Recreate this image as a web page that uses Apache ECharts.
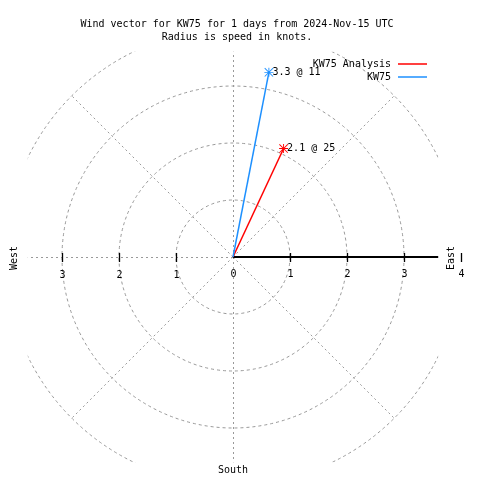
<!DOCTYPE html>
<html>
<head>
<meta charset="utf-8">
<script src="https://cdn.jsdelivr.net/npm/echarts@6/dist/echarts.min.js"></script>
<style>html,body{margin:0;padding:0;background:#fff}#c{width:480px;height:480px}</style>
</head>
<body>
<div id="c"></div>
<script>
const TITLE_LINES = ['Wind vector for KW75 for 1 days from 2024-Nov-15 UTC', 'Radius is speed in knots.'];
const SERIES_NAMES = ['KW75 Analysis', 'KW75'];
const SERIES_COLORS = ['#ff0000', '#1e90ff'];
const SPEEDS = [2.1, 3.3];
const DIRECTIONS = [25, 11];
const RINGS = [1, 2, 3, 4];
const SPOKES = [0, 45, 90, 135, 180, 225, 270, 315];
const EAST_TICKS = [0, 1, 2, 3, 4];
const WEST_TICKS = [1, 2, 3];
const COMPASS = { east: 'East', west: 'West', south: 'South' };
const R_MAX = 4;
const BOX = 3.6;

const FONT = '10px "DejaVu Sans Mono"';
const RING_STYLE = { fill: 'none', stroke: '#999', lineWidth: 1, lineDash: [3, 3] };
const SPOKE_STYLE = { fill: 'none', stroke: '#999', lineWidth: 1, lineDash: [2, 3] };
const STAR = 'path://M4.5,0H5.5V10H4.5Z M0,4.5H10V5.5H0Z M0.7,0L10,9.3L9.3,10L0,0.7Z M9.3,0L10,0.7L0.7,10L0,9.3Z';

const chart = echarts.init(document.getElementById('c'), null, { renderer: 'canvas' });

function renderFrame(params, api) {
  const c = api.coord([0, 0]);
  const rpx = v => { const p = api.coord([v, 90]); return p[0] - c[0]; };
  const left = api.coord([BOX, 270])[0];
  const right = api.coord([BOX, 90])[0];
  const top = api.coord([BOX, 0])[1];
  const bottom = api.coord([BOX, 180])[1];
  const gridChildren = [];
  RINGS.forEach(v => {
    gridChildren.push({ type: 'circle', shape: { cx: c[0], cy: c[1], r: rpx(v) }, style: RING_STYLE });
  });
  SPOKES.forEach(a => {
    if (a === 90) return;
    const p = api.coord([R_MAX, a]);
    let x1 = c[0], y1 = c[1], x2 = p[0], y2 = p[1];
    if (a % 180 === 0) { x1 = x2 = Math.round(c[0]) + 0.5; }
    if (a % 180 === 90) { y1 = y2 = Math.round(c[1]) + 0.5; }
    gridChildren.push({ type: 'line', shape: { x1: x1, y1: y1, x2: x2, y2: y2 }, style: SPOKE_STYLE });
  });
  const children = [{
    type: 'group',
    clipPath: { type: 'rect', shape: { x: left, y: top, width: right - left, height: bottom - top } },
    children: gridChildren
  }];
  const cy = Math.round(c[1]);
  children.push({ type: 'line', shape: { x1: c[0], y1: cy, x2: right, y2: cy }, style: { stroke: '#000', lineWidth: 2 } });
  const label = (x, y, t) => ({ type: 'text', x: x, y: y, style: { text: t, font: FONT, fill: '#000', align: 'center', verticalAlign: 'middle' } });
  EAST_TICKS.forEach(v => {
    const x = Math.round(api.coord([v, 90])[0]) + 0.5;
    if (v > 0) children.push({ type: 'line', shape: { x1: x, y1: cy - 4, x2: x, y2: cy + 5 }, style: { stroke: '#000', lineWidth: 1.3 } });
    children.push(label(x, cy + 17, String(v)));
  });
  WEST_TICKS.forEach(v => {
    const x = Math.round(api.coord([v, 270])[0]) + 0.5;
    children.push({ type: 'line', shape: { x1: x, y1: cy - 4, x2: x, y2: cy + 5 }, style: { stroke: '#000', lineWidth: 1.3 } });
    children.push(label(x, cy + 18, String(v)));
  });
  children.push({ type: 'text', x: right + 13, y: cy + 1, rotation: Math.PI / 2,
    style: { text: COMPASS.east, font: FONT, fill: '#000', align: 'center', verticalAlign: 'middle' } });
  children.push({ type: 'text', x: left - 13, y: cy + 1, rotation: Math.PI / 2,
    style: { text: COMPASS.west, font: FONT, fill: '#000', align: 'center', verticalAlign: 'middle' } });
  children.push(label(c[0], bottom + 8, COMPASS.south));
  return { type: 'group', children: children };
}

const vectorSeries = SERIES_NAMES.map((name, i) => ({
  name: name,
  type: 'line',
  coordinateSystem: 'polar',
  color: SERIES_COLORS[i],
  lineStyle: { color: SERIES_COLORS[i], width: 1.5 },
  z: 5,
  animation: false,
  showSymbol: true,
  data: [
    { value: [0, DIRECTIONS[i]], symbol: 'none' },
    {
      value: [SPEEDS[i], DIRECTIONS[i]],
      symbol: STAR,
      symbolSize: 9,
      itemStyle: { color: SERIES_COLORS[i] },
      label: {
        show: true, position: 'right', distance: -1,
        formatter: SPEEDS[i].toFixed(1) + ' @ ' + DIRECTIONS[i],
        fontFamily: 'DejaVu Sans Mono', fontSize: 10, color: '#000'
      }
    }
  ]
}));

chart.setOption({
  backgroundColor: '#fff',
  animation: false,
  title: {
    text: TITLE_LINES.join('\n'),
    left: 232, top: 13, textAlign: 'center',
    textStyle: { fontFamily: 'DejaVu Sans Mono', fontSize: 10, fontWeight: 'normal', color: '#000', lineHeight: 13 }
  },
  legend: {
    data: SERIES_NAMES,
    orient: 'vertical',
    right: 48, top: 54,
    align: 'right',
    icon: 'rect',
    itemWidth: 29, itemHeight: 1.5,
    itemGap: 3,
    textStyle: { fontFamily: 'DejaVu Sans Mono', fontSize: 10, color: '#000', padding: [0, 2, 0, 0] }
  },
  polar: { center: [233, 257], radius: 228 },
  angleAxis: {
    type: 'value', min: 0, max: 360, startAngle: 90, clockwise: true,
    axisLine: { show: false }, axisTick: { show: false }, axisLabel: { show: false }, splitLine: { show: false }
  },
  radiusAxis: {
    type: 'value', min: 0, max: R_MAX,
    axisLine: { show: false }, axisTick: { show: false }, axisLabel: { show: false }, splitLine: { show: false }
  },
  series: [
    {
      type: 'custom', coordinateSystem: 'polar', silent: true, z: 1,
      data: [[0, 0]],
      renderItem: renderFrame
    }
  ].concat(vectorSeries)
});
</script>
</body>
</html>
